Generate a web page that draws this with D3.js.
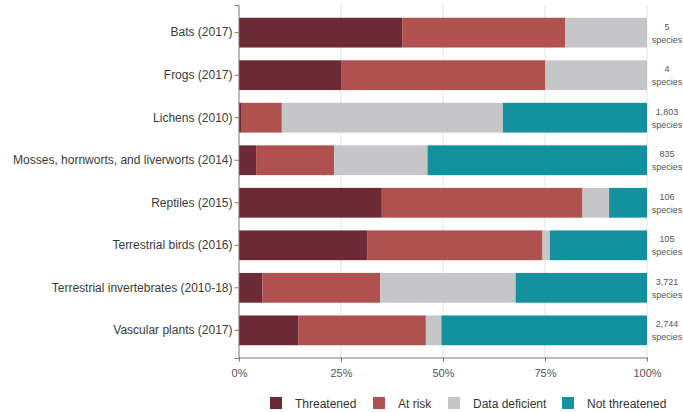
<!DOCTYPE html>
<html><head><meta charset="utf-8">
<script src="https://cdn.jsdelivr.net/npm/d3@7"></script>
<style>body{margin:0;background:#fff;font-family:Arial,"Liberation Sans",sans-serif}</style>
</head><body><svg id="c" width="683" height="412"></svg>
<script>
const categories = ["Bats (2017)","Frogs (2017)","Lichens (2010)","Mosses, hornworts, and liverworts (2014)","Reptiles (2015)","Terrestrial birds (2016)","Terrestrial invertebrates (2010-18)","Vascular plants (2017)"];
const threatened = [40, 25, 0.5, 4.2, 35, 31.4, 5.7, 14.6];
const atRisk = [40, 50, 10, 19.1, 49.2, 43, 28.9, 31.2];
const dataDeficient = [20, 25, 54.2, 22.9, 6.5, 1.8, 33.2, 3.8];
const notThreatened = [0, 0, 35.3, 53.8, 9.3, 23.8, 32.2, 50.4];
const speciesCounts = ["5","4","1,803","835","106","105","3,721","2,744"];
const seriesNames = ["Threatened","At risk","Data deficient","Not threatened"];
const colors = ["#6c2a35","#b0504f","#c6c6c8","#14919f"];
const xTicks = [0, 0.25, 0.5, 0.75, 1];

const svg = d3.select("#c");
const x = d3.scaleLinear().domain([0, 1]).range([239, 647]);
const y = d3.scaleBand().domain(categories).range([5, 358]).paddingInner(0.3).paddingOuter(0.3);

const rows = categories.map((c, i) => ({cat: c, Threatened: threatened[i], "At risk": atRisk[i], "Data deficient": dataDeficient[i], "Not threatened": notThreatened[i]}));
const stack = d3.stack().keys(seriesNames).offset(d3.stackOffsetExpand);
const stacked = stack(rows);

// gridlines
svg.append("g").selectAll("line").data(xTicks.slice(1)).join("line")
  .attr("x1", d => x(d)).attr("x2", d => x(d)).attr("y1", 5).attr("y2", 357)
  .attr("stroke", "#e3e3e3").attr("stroke-width", 1);

svg.append("g").selectAll("g").data(stacked).join("g")
  .attr("fill", (d, i) => colors[i])
  .selectAll("rect").data(d => d).join("rect")
  .attr("x", d => x(d[0])).attr("width", d => x(d[1]) - x(d[0]))
  .attr("y", d => y(d.data.cat)).attr("height", y.bandwidth());

// y axis
const ya = svg.append("g").attr("transform", "translate(238.5,0)").call(d3.axisLeft(y).tickSize(4).tickPadding(2));
ya.select(".domain").attr("stroke", "#777");
ya.selectAll(".tick line").attr("stroke", "#777");
ya.selectAll("text").attr("font-size", 12).attr("fill", "#3a3a3a").attr("font-family", "Arial, Liberation Sans, sans-serif");

// x axis
const xa = svg.append("g").attr("transform", "translate(0,357.5)")
  .call(d3.axisBottom(x).tickValues(xTicks).tickFormat(d3.format(".0%")).tickSize(4).tickSizeOuter(0).tickPadding(8));
xa.select(".domain").attr("stroke", "#777");
xa.selectAll(".tick line").attr("stroke", "#777");
xa.selectAll("text").attr("font-size", 11).attr("fill", "#555").attr("font-family", "Arial, Liberation Sans, sans-serif");

// species counts
const sc = svg.append("g").selectAll("text").data(categories).join("text")
  .attr("x", 667).attr("text-anchor", "middle").attr("font-size", 9).attr("fill", "#555");
sc.append("tspan").attr("x", 667).attr("y", d => y(d) + y.bandwidth() / 2 - 3).text((d, i) => speciesCounts[i]);
sc.append("tspan").attr("x", 667).attr("y", d => y(d) + y.bandwidth() / 2 + 10).text("species");

// legend
const legX = [270, 373, 448, 562];
const lg = svg.append("g").selectAll("g").data(seriesNames).join("g")
  .attr("transform", (d, i) => `translate(${legX[i]},397)`);
lg.append("rect").attr("width", 12).attr("height", 12).attr("fill", (d, i) => colors[i]);
lg.append("text").attr("x", 25).attr("y", 10.5).attr("font-size", 12).attr("fill", "#333").text(d => d);
</script></body></html>
